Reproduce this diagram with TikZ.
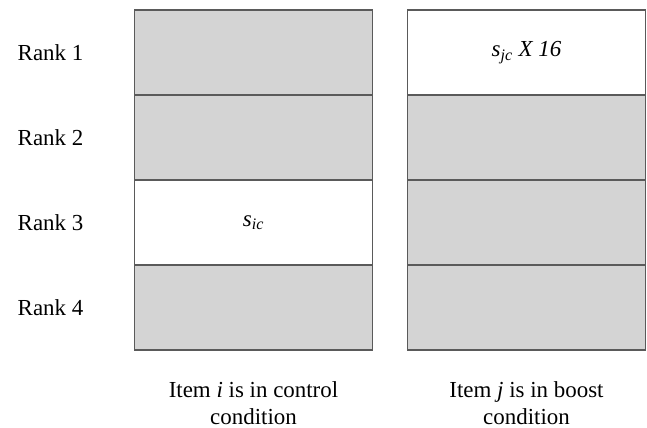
\documentclass[tikz,border=0pt]{standalone}
\usepackage{fontspec}
\setmainfont{Liberation Serif}
\definecolor{cellgray}{HTML}{D4D4D4}
\definecolor{edgegray}{HTML}{5A5A5A}
\begin{document}
\begin{tikzpicture}[x=0.75pt,y=-0.75pt,
  cell/.style={draw=edgegray,line width=1.1pt,fill=cellgray,minimum width=237.5*0.75pt,minimum height=85*0.75pt,inner sep=0pt},
  blank/.style={cell,fill=white},
  rlabel/.style={anchor=west,font=\fontsize{17.2}{20}\selectfont},
  caption/.style={align=center,font=\fontsize{17.2}{20}\selectfont,inner sep=0pt}]
\useasboundingbox (0,0) rectangle (647,428);
% control column
\node[cell]  (c1) at (253.5,52.5) {};
\node[cell]  (c2) at (253.5,137.5) {};
\node[blank] (c3) at (253.5,222.5) {\fontsize{17.2}{20}\selectfont\itshape s\textsubscript{ic}};
\node[cell]  (c4) at (253.5,307.5) {};
% boost column
\node[blank] (b1) at (526.5,52.5) {\fontsize{17.2}{20}\selectfont\itshape s\textsubscript{jc} X 16};
\node[cell]  (b2) at (526.5,137.5) {};
\node[cell]  (b3) at (526.5,222.5) {};
\node[cell]  (b4) at (526.5,307.5) {};
% rank labels
\node[rlabel] (r1) at (13,52.5) {Rank 1};
\node[rlabel] (r2) at (13,137.5) {Rank 2};
\node[rlabel] (r3) at (13,222.5) {Rank 3};
\node[rlabel] (r4) at (13,307.5) {Rank 4};
% column captions
\node[caption] (capc) at (253.5,403) {Item \textit{i} is in control\\condition};
\node[caption] (capb) at (526.5,403) {Item \textit{j} is in boost\\condition};
\end{tikzpicture}
\end{document}
